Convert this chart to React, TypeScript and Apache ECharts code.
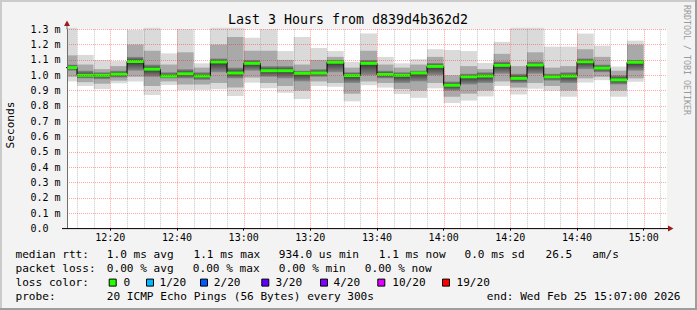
import React, { useEffect, useRef } from "react";
import * as echarts from "echarts";

// ---------- data ----------
const binStarts = [
  "12:05", "12:10", "12:15", "12:20", "12:25", "12:30", "12:35", "12:40", "12:45", "12:50",
  "12:55", "13:00", "13:05", "13:10", "13:15", "13:20", "13:25", "13:30", "13:35", "13:40",
  "13:45", "13:50", "13:55", "14:00", "14:05", "14:10", "14:15", "14:20", "14:25", "14:30",
  "14:35", "14:40", "14:45", "14:50", "14:55",
];
// ping round trip times per 5-minute bin (ms)
const pingMin = [
  0.96, 0.93, 0.91, 0.948, 0.96, 0.872, 0.937, 0.904, 0.905, 0.909,
  0.865, 0.952, 0.915, 0.886, 0.845, 0.93, 0.925, 0.83, 0.935, 0.92,
  0.878, 0.853, 0.915, 0.82, 0.835, 0.862, 0.93, 0.875, 0.912, 0.9,
  0.86, 0.953, 0.968, 0.86, 0.958,
];
const pingLow2 = [
  0.99, 0.955, 0.945, 0.965, 0.99, 0.93, 0.96, 0.94, 0.94, 0.95,
  0.92, 0.985, 0.95, 0.93, 0.9, 0.96, 0.95, 0.88, 0.96, 0.95,
  0.91, 0.9, 0.95, 0.86, 0.88, 0.9, 0.96, 0.92, 0.95, 0.93,
  0.9, 0.98, 0.99, 0.9, 0.98,
];
const pingLow1 = [
  1.03, 0.98, 0.975, 0.985, 1.03, 0.99, 0.98, 0.98, 0.97, 1.02,
  0.98, 1.03, 0.99, 0.98, 0.96, 0.99, 1.02, 0.95, 1.0, 0.98,
  0.95, 0.96, 1.0, 0.9, 0.94, 0.95, 1.01, 0.95, 1.01, 0.965,
  0.95, 1.04, 1.02, 0.94, 1.03,
];
const pingMedian = [
  1.05, 1.0, 1.0, 1.007, 1.09, 1.04, 0.995, 1.01, 0.995, 1.087,
  1.015, 1.078, 1.03, 1.03, 1.013, 1.015, 1.085, 0.998, 1.078, 1.005,
  1.0, 1.015, 1.058, 0.935, 0.99, 0.995, 1.065, 0.98, 1.067, 0.99,
  0.995, 1.088, 1.047, 0.97, 1.085,
];
const pingHigh1 = [
  1.07, 1.03, 1.02, 1.03, 1.12, 1.07, 1.02, 1.04, 1.02, 1.11,
  1.05, 1.1, 1.06, 1.06, 1.03, 1.04, 1.1, 1.02, 1.1, 1.03,
  1.02, 1.03, 1.08, 0.96, 1.01, 1.02, 1.09, 1.01, 1.09, 1.01,
  1.02, 1.11, 1.07, 1.0, 1.1,
];
const pingHigh2 = [
  1.13, 1.07, 1.04, 1.06, 1.2, 1.16, 1.07, 1.15, 1.05, 1.2,
  1.25, 1.16, 1.16, 1.1, 1.07, 1.1, 1.12, 1.05, 1.16, 1.07,
  1.05, 1.07, 1.12, 1.0, 1.06, 1.04, 1.14, 1.06, 1.15, 1.05,
  1.06, 1.17, 1.12, 1.03, 1.2,
];
const pingMax = [
  1.31, 1.133, 1.1, 1.093, 1.295, 1.31, 1.143, 1.3, 1.078, 1.31,
  1.31, 1.245, 1.3, 1.158, 1.25, 1.178, 1.158, 1.088, 1.272, 1.12,
  1.078, 1.105, 1.17, 1.165, 1.158, 1.08, 1.218, 1.31, 1.31, 1.187,
  1.187, 1.272, 1.193, 1.057, 1.226,
];
const binMinutes = 5;

const rangeStart = "12:07";
const rangeEnd = "15:07";
const majorTicks = ["12:20", "12:40", "13:00", "13:20", "13:40", "14:00", "14:20", "14:40", "15:00"];
const minorTicks = [
  "12:10", "12:15", "12:25", "12:30", "12:35", "12:45", "12:50", "12:55",
  "13:05", "13:10", "13:15", "13:25", "13:30", "13:35", "13:45", "13:50", "13:55",
  "14:05", "14:10", "14:15", "14:25", "14:30", "14:35", "14:45", "14:50", "14:55", "15:05",
];
const yMin = 0;
const yMax = 1.3;
const yStep = 0.1;

const titleText = "Last 3 Hours from d839d4b362d2";
const yTitle = "Seconds";
const watermark = "RRDTOOL / TOBI OETIKER";
const rttTexts = ["median rtt:", "1.0 ms avg", "1.1 ms max", "934.0 us min", "1.1 ms now", "0.0 ms sd", "26.5", "am/s"];
const lossTexts = ["packet loss:", "0.00 % avg", "0.00 % max", "0.00 % min", "0.00 % now"];
const lossColorTitle = "loss color:";
const lossColorNames = ["0", "1/20", "2/20", "3/20", "4/20", "10/20", "19/20"];
const lossColors = ["#26ff00", "#00b8ff", "#0059ff", "#5e00ff", "#7e00ff", "#dd00ff", "#ff0000"];
const probeTexts = ["probe:", "20 ICMP Echo Pings (56 Bytes) every 300s", "end: Wed Feb 25 15:07:00 2026"];

// ---------- layout ----------
const W = 697;
const H = 310;
const GRID_LEFT = 67;
const GRID_TOP = 29.3;
const GRID_W = 600;
const GRID_H = 199.3;
const AXIS_Y = GRID_TOP + GRID_H;
const MONO = '"DejaVu Sans Mono", monospace';
const LEGEND_SIZE = 11.1;
const rttX = [15.5, 106.8, 193.5, 278.8, 378.8, 464.5, 545.5, 592.2];
const lossX = [15.5, 106.8, 192.8, 278.8, 364.8];
const lossBoxX = [108.7, 146, 200, 261.3, 320, 377.3, 442];
const lossTextX = [123.5, 159.5, 213.8, 275.5, 333.5, 392.2, 456.5];
const probeX = [15.5, 106.8, 486.8];
const rowY = [254.6, 268.6, 282.3, 296.5];

const toMin = (s: string) => {
  const [h, m] = s.split(":").map(Number);
  return h * 60 + m;
};
const fmtMin = (v: number) => {
  const h = Math.floor(v / 60);
  const m = Math.round(v - h * 60);
  return `${h}:${m < 10 ? "0" : ""}${m}`;
};

const gridLineSeries = (ticks: string[], color: string, z: number) => ({
  type: "custom",
  xAxisIndex: 0,
  z,
  silent: true,
  clip: false,
  data: ticks.map((t) => [toMin(t), 0]),
  encode: { x: 0, y: 1 },
  renderItem: (params: any, api: any) => {
    const cs = params.coordSys;
    const x = Math.round(api.coord([api.value(0), 0])[0]) + 0.5;
    return {
      type: "line",
      shape: { x1: x, y1: cs.y, x2: x, y2: cs.y + cs.height },
      style: { stroke: color, lineWidth: 1, lineDash: [1, 1] },
    };
  },
});

export default function App() {
  const ref = useRef<HTMLDivElement>(null);

  useEffect(() => {
    document.body.style.margin = "0";
    if (!ref.current) return;
    const chart = echarts.init(ref.current, undefined, { renderer: "svg" });

    const smokeData = binStarts.map((s, i) => [
      toMin(s), pingMin[i], pingLow2[i], pingLow1[i], pingMedian[i], pingHigh1[i], pingHigh2[i], pingMax[i],
    ]);
    const medianSteps: number[][] = binStarts.map((s, i) => [toMin(s), pingMedian[i]]);
    const last = binStarts.length - 1;
    medianSteps.push([toMin(binStarts[last]) + binMinutes, pingMedian[last]]);

    const txt = (text: string, x: number, y: number, size = LEGEND_SIZE, extra: any = {}) => ({
      type: "text",
      x,
      y,
      z: 100,
      silent: true,
      ...extra,
      style: {
        text,
        fill: "#000",
        fontFamily: MONO,
        fontSize: size,
        align: "left",
        verticalAlign: "middle",
        ...(extra.style || {}),
      },
    });

    const graphics: any[] = [];
    // frame shading
    graphics.push({ type: "rect", shape: { x: 0, y: 0, width: W, height: 2 }, style: { fill: "#cbcbcb" }, z: 90, silent: true });
    graphics.push({ type: "rect", shape: { x: 0, y: 0, width: 2, height: H }, style: { fill: "#cbcbcb" }, z: 90, silent: true });
    graphics.push({ type: "rect", shape: { x: 0, y: H - 2, width: W, height: 2 }, style: { fill: "#9e9e9e" }, z: 91, silent: true });
    graphics.push({ type: "rect", shape: { x: W - 2, y: 0, width: 2, height: H }, style: { fill: "#9e9e9e" }, z: 91, silent: true });
    // axis lines and arrows
    graphics.push({ type: "line", shape: { x1: 62, y1: AXIS_Y, x2: 669, y2: AXIS_Y }, style: { stroke: "#000", lineWidth: 1 }, z: 95, silent: true });
    graphics.push({ type: "polygon", shape: { points: [[668, AXIS_Y - 3], [673.5, AXIS_Y], [668, AXIS_Y + 3]] }, style: { fill: "#9b1c1c" }, z: 96, silent: true });
    graphics.push({ type: "line", shape: { x1: GRID_LEFT, y1: GRID_TOP, x2: GRID_LEFT, y2: 25 }, style: { stroke: "#707070", lineWidth: 1 }, z: 95, silent: true });
    graphics.push({ type: "polygon", shape: { points: [[GRID_LEFT - 3, 26], [GRID_LEFT, 20.5], [GRID_LEFT + 3, 26]] }, style: { fill: "#9b1c1c" }, z: 96, silent: true });
    // titles
    graphics.push(txt(titleText, 348, 19.8, 13.3, { style: { align: "center" } }));
    graphics.push(txt(yTitle, 10.5, 125, LEGEND_SIZE, { rotation: Math.PI / 2, style: { align: "center" } }));
    graphics.push(txt(watermark, 686.5, 60, 8.3, { rotation: -Math.PI / 2, style: { align: "center", fill: "#9a9a9a" } }));
    // legend rows
    rttTexts.forEach((t, i) => graphics.push(txt(t, rttX[i], rowY[0])));
    lossTexts.forEach((t, i) => graphics.push(txt(t, lossX[i], rowY[1])));
    graphics.push(txt(lossColorTitle, 15.5, rowY[2]));
    lossColorNames.forEach((t, i) => {
      graphics.push({
        type: "rect",
        shape: { x: lossBoxX[i] + 0.5, y: rowY[2] - 3.2, width: 7, height: 7 },
        style: { fill: lossColors[i], stroke: "#000", lineWidth: 1 },
        z: 100,
        silent: true,
      });
      graphics.push(txt(t, lossTextX[i], rowY[2]));
    });
    probeTexts.forEach((t, i) => graphics.push(txt(t, probeX[i], rowY[3])));

    const option: any = {
      animation: false,
      backgroundColor: "#f3f3f3",
      grid: {
        left: GRID_LEFT,
        top: GRID_TOP,
        width: GRID_W,
        height: GRID_H,
        show: true,
        backgroundColor: "#ffffff",
        borderWidth: 0,
      },
      xAxis: {
        type: "value",
        min: toMin(rangeStart),
        max: toMin(rangeEnd),
        position: "bottom",
        z: 5,
        axisLine: { show: false },
        axisTick: {
          show: true,
          length: 2,
          inside: false,
          customValues: majorTicks.map(toMin),
          lineStyle: { color: "#000" },
        },
        axisLabel: {
          customValues: majorTicks.map(toMin),
          formatter: (v: number) => fmtMin(v),
          fontFamily: MONO,
          fontSize: 10,
          color: "#000",
          margin: 4,
        },
        splitLine: { show: false },
      },
      yAxis: {
        type: "value",
        min: yMin,
        max: yMax,
        interval: yStep,
        z: 6,
        axisLine: { show: true, lineStyle: { color: "#707070", width: 1 } },
        axisTick: { show: false },
        axisLabel: {
          align: "left",
          margin: 36.5,
          fontFamily: MONO,
          fontSize: 10,
          color: "#000",
          formatter: (v: number) => (Math.abs(v) < 1e-9 ? "0.0" : `${v.toFixed(1)} m`),
        },
        splitLine: { show: true, lineStyle: { color: "rgba(255,0,0,0.35)", type: [1, 1], width: 1 } },
      },
      series: [
        {
          type: "custom",
          name: "smoke",
          z: 2,
          clip: false,
          data: smokeData,
          encode: { x: 0, y: [1, 2, 3, 4, 5, 6, 7] },
          renderItem: (params: any, api: any) => {
            const x0 = api.value(0);
            const cs = params.coordSys;
            const left = Math.max(api.coord([x0, 0])[0], cs.x);
            const right = api.coord([x0 + binMinutes, 0])[0];
            const yv = (v: number) => api.coord([x0, v])[1];
            const mn = api.value(1), l2 = api.value(2), l1 = api.value(3), md = api.value(4);
            const h1 = api.value(5), h2 = api.value(6), mx = api.value(7);
            const band = (lo: number, hi: number, fill: any) => ({
              type: "rect",
              shape: { x: left, y: yv(hi), width: right - left, height: yv(lo) - yv(hi) },
              style: { fill },
            });
            const f = Math.min(0.95, Math.max(0.05, (h1 - md) / (h1 - l1)));
            const grad = new echarts.graphic.LinearGradient(0, 0, 0, 1, [
              { offset: 0, color: "#8a8a8a" },
              { offset: f, color: "#353535" },
              { offset: 1, color: "#8a8a8a" },
            ]);
            return {
              type: "group",
              children: [band(mn, mx, "#dadada"), band(l2, h2, "#a9a9a9"), band(l1, h1, grad)],
            };
          },
        },
        gridLineSeries(minorTicks, "rgba(0,0,0,0.22)", 5),
        gridLineSeries(majorTicks, "rgba(255,0,0,0.38)", 5),
        {
          type: "line",
          name: "median step",
          z: 3,
          step: "end",
          symbol: "none",
          silent: true,
          data: medianSteps,
          lineStyle: { color: "#000", width: 1 },
        },
        {
          type: "custom",
          name: "median",
          z: 4,
          clip: false,
          data: binStarts.map((s, i) => [toMin(s), pingMedian[i]]),
          encode: { x: 0, y: 1 },
          renderItem: (params: any, api: any) => {
            const x0 = api.value(0);
            const cs = params.coordSys;
            const left = Math.max(api.coord([x0, 0])[0], cs.x);
            const right = api.coord([x0 + binMinutes, 0])[0];
            const y = api.coord([x0, api.value(1)])[1];
            return {
              type: "rect",
              shape: { x: left, y: y - 1.5, width: right - left, height: 3 },
              style: { fill: lossColors[0] },
            };
          },
        },
      ],
      graphic: graphics,
    };

    chart.setOption(option);
    return () => chart.dispose();
  }, []);

  return <div ref={ref} style={{ width: W, height: H }} />;
}
